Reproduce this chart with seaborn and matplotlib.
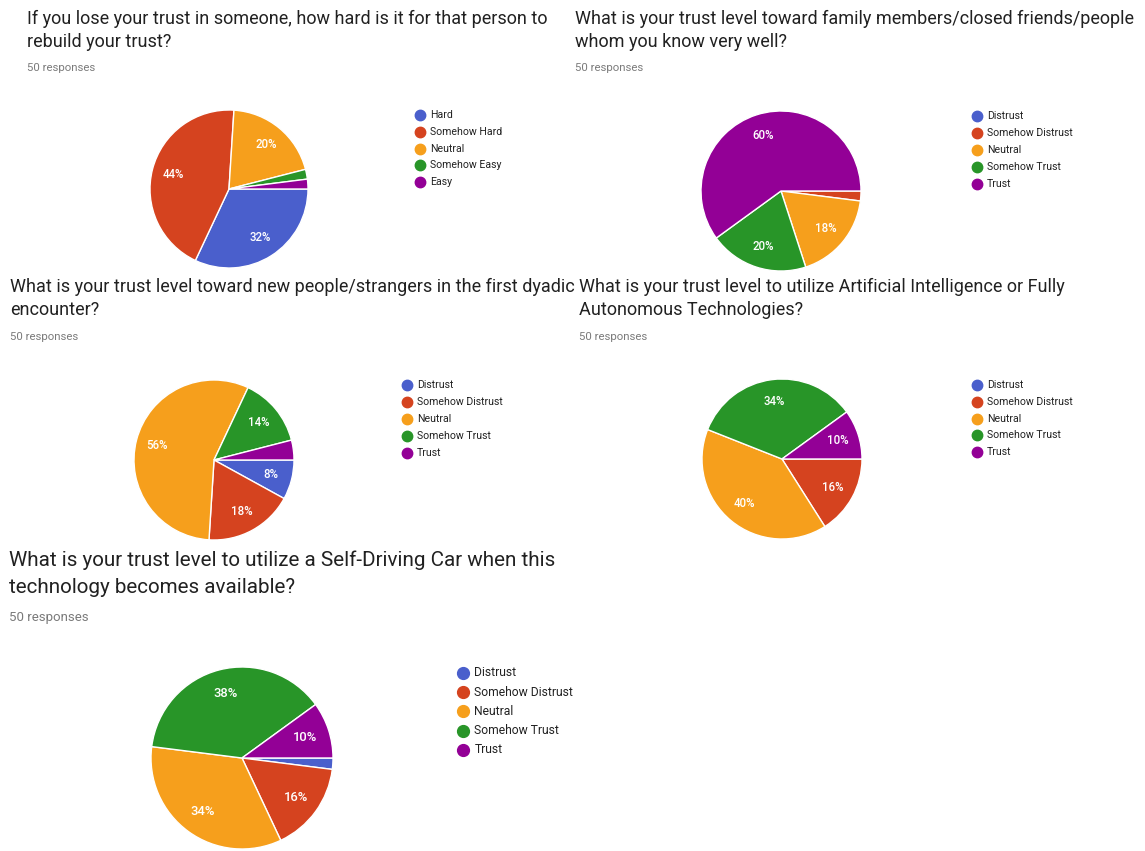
import matplotlib
matplotlib.use("Agg")
import matplotlib.pyplot as plt
from matplotlib.lines import Line2D
import seaborn as sns

# ---- survey answers (percent of 50 responses) ----
rebuild_levels = ["Hard", "Somehow Hard", "Neutral", "Somehow Easy", "Easy"]
trust_levels = ["Distrust", "Somehow Distrust", "Neutral", "Somehow Trust", "Trust"]

rebuild_pct = [32, 44, 20, 2, 2]
close_people_pct = [0, 2, 18, 20, 60]
strangers_pct = [8, 18, 56, 14, 4]
ai_pct = [0, 16, 40, 34, 10]
self_driving_pct = [2, 16, 34, 38, 10]

titles = [
    ["If you lose your trust in someone, how hard is it for that person to",
     "rebuild your trust?"],
    ["What is your trust level toward family members/closed friends/people",
     "whom you know very well?"],
    ["What is your trust level toward new people/strangers in the first dyadic",
     "encounter?"],
    ["What is your trust level to utilize Artificial Intelligence or Fully",
     "Autonomous Technologies?"],
    ["What is your trust level to utilize a Self-Driving Car when this",
     "technology becomes available?"],
]
responses_label = "50 responses"

sns.set_theme(style="white")
plt.rcParams["font.family"] = ["Roboto", "DejaVu Sans"]

palette = sns.color_palette(["#4a5fcc", "#d5431f", "#f69f1c", "#289528", "#930096"])

W, H = 1145, 851
fig = plt.figure(figsize=(W / 100, H / 100), dpi=100)
fig.patch.set_facecolor("white")


def fx(x):
    return x / W


def fy(y):
    return 1 - y / H


# layout of each panel in pixels: title x, title baselines, pie centre/radius,
# legend marker x, legend first row y, row step, font sizes
panels = [
    dict(values=rebuild_pct, labels=rebuild_levels, title=titles[0],
         tx=27, ty=(24, 47, 71), cx=229, cy=189, r=79,
         lx=420, ly=115, step=16.8,
         f_title=13.0, f_resp=8.2, f_leg=7.6, f_pct=8.3, ms=7.5),
    dict(values=close_people_pct, labels=trust_levels, title=titles[1],
         tx=575, ty=(24, 47, 71), cx=781, cy=191, r=80,
         lx=977, ly=116, step=16.9,
         f_title=13.0, f_resp=8.2, f_leg=7.6, f_pct=8.3, ms=7.5),
    dict(values=strangers_pct, labels=trust_levels, title=titles[2],
         tx=10, ty=(292, 315, 340), cx=214, cy=460, r=80,
         lx=407, ly=385, step=17.0,
         f_title=13.0, f_resp=8.2, f_leg=7.6, f_pct=8.3, ms=7.5),
    dict(values=ai_pct, labels=trust_levels, title=titles[3],
         tx=579, ty=(292, 315, 340), cx=782, cy=459, r=80,
         lx=977, ly=385, step=16.8,
         f_title=13.0, f_resp=8.2, f_leg=7.6, f_pct=8.3, ms=7.5),
    dict(values=self_driving_pct, labels=trust_levels, title=titles[4],
         tx=9, ty=(566, 593, 621), cx=242, cy=758, r=91,
         lx=463, ly=673, step=19.2,
         f_title=14.9, f_resp=9.5, f_leg=8.7, f_pct=9.4, ms=8.5),
]

for p in panels:
    # question title and response count
    for line, base in zip(p["title"], p["ty"][:2]):
        fig.text(fx(p["tx"]), fy(base), line, fontsize=p["f_title"],
                 color="#212121", ha="left", va="baseline")
    fig.text(fx(p["tx"]), fy(p["ty"][2]), responses_label, fontsize=p["f_resp"],
             color="#7a7a7a", ha="left", va="baseline")

    # pie chart
    r = p["r"]
    ax = fig.add_axes([fx(p["cx"] - r), fy(p["cy"] + r), 2 * r / W, 2 * r / H])
    wedges, texts, autotexts = ax.pie(
        p["values"], colors=palette, startangle=0, counterclock=False,
        autopct=lambda v: f"{v:.0f}%" if v >= 5 else "",
        pctdistance=0.73,
        wedgeprops=dict(edgecolor="white", linewidth=1.0),
        textprops=dict(color="white", fontsize=p["f_pct"], fontweight="medium"),
    )
    ax.set_xlim(-1, 1)
    ax.set_ylim(-1, 1)
    ax.set_aspect("equal")
    ax.axis("off")

    # legend
    for i, (lab, col) in enumerate(zip(p["labels"], palette)):
        y = p["ly"] + i * p["step"]
        fig.add_artist(Line2D([fx(p["lx"])], [fy(y)], transform=fig.transFigure,
                              marker="o", markersize=p["ms"], color=col,
                              linestyle="none"))
        fig.text(fx(p["lx"] + 10 * p["ms"] / 7.5), fy(y), lab,
                 fontsize=p["f_leg"], color="#222222", ha="left", va="center")

fig.savefig("out.png", dpi=100, facecolor="white")
